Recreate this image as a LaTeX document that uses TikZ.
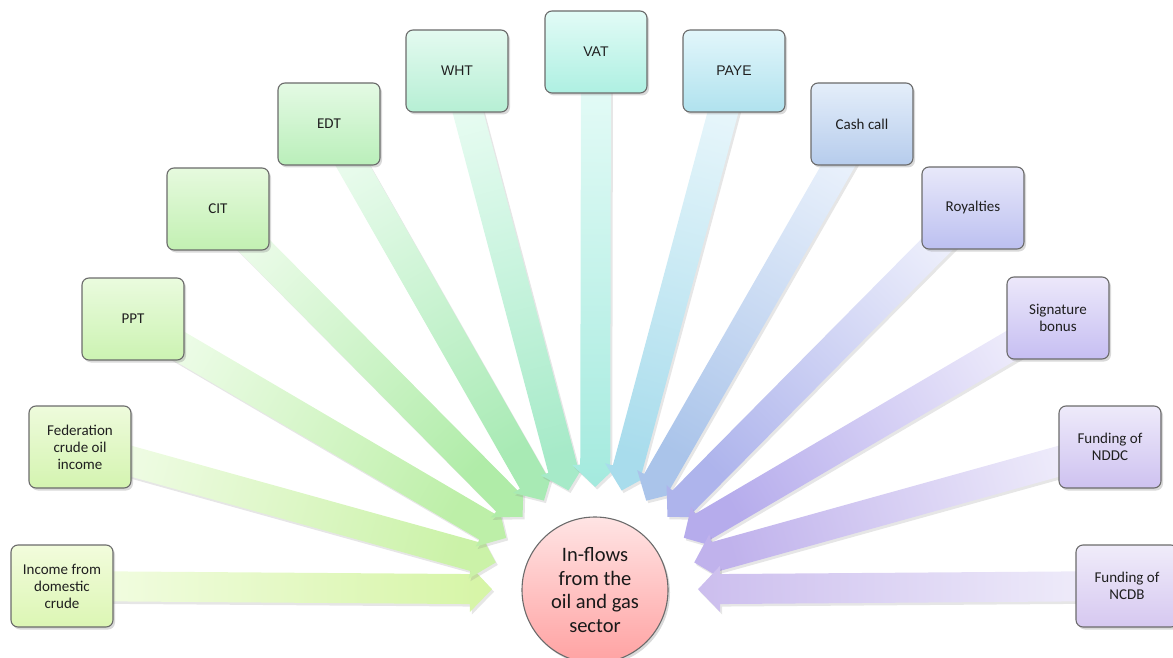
\documentclass[tikz,border=0pt]{standalone}
\usepackage{fontspec}
\setmainfont{Carlito}
\newfontfamily\arialfont{Liberation Sans}
\usetikzlibrary{calc,shadows}
\pgfdeclarelayer{flows}
\pgfsetlayers{flows,main}

% box colours: top / bottom
\definecolor{b1t}{HTML}{F2FCDC}\definecolor{b1b}{HTML}{DCF6B4}
\definecolor{b2t}{HTML}{EEFBDC}\definecolor{b2b}{HTML}{D4F4B0}
\definecolor{b3t}{HTML}{EAFBDE}\definecolor{b3b}{HTML}{CCF3B2}
\definecolor{b4t}{HTML}{E6FADE}\definecolor{b4b}{HTML}{C2F0B2}
\definecolor{b5t}{HTML}{E4FAE4}\definecolor{b5b}{HTML}{BAEFBA}
\definecolor{b6t}{HTML}{E4FAF0}\definecolor{b6b}{HTML}{B6EFD4}
\definecolor{b7t}{HTML}{E2FBF6}\definecolor{b7b}{HTML}{AEF0E2}
\definecolor{b8t}{HTML}{E2F6FB}\definecolor{b8b}{HTML}{B0E2EE}
\definecolor{b9t}{HTML}{E4EEFA}\definecolor{b9b}{HTML}{B6CCEC}
\definecolor{b10t}{HTML}{E8E8FA}\definecolor{b10b}{HTML}{BCC0F0}
\definecolor{b11t}{HTML}{ECE8FA}\definecolor{b11b}{HTML}{C6BEF2}
\definecolor{b12t}{HTML}{EEEAFA}\definecolor{b12b}{HTML}{CEC2F0}
\definecolor{b13t}{HTML}{F0ECFA}\definecolor{b13b}{HTML}{D6C8F0}
% arrow colours: tail / head
\definecolor{a1t}{HTML}{F4FDE6}\definecolor{a1h}{HTML}{D6F5A6}
\definecolor{a2t}{HTML}{F0FCE6}\definecolor{a2h}{HTML}{CBF2A8}
\definecolor{a3t}{HTML}{EDFCE8}\definecolor{a3h}{HTML}{BDEFA8}
\definecolor{a4t}{HTML}{EAFBE8}\definecolor{a4h}{HTML}{B0ECA8}
\definecolor{a5t}{HTML}{E8FBEC}\definecolor{a5h}{HTML}{A8EAB4}
\definecolor{a6t}{HTML}{E8FCF2}\definecolor{a6h}{HTML}{A6EAC8}
\definecolor{a7t}{HTML}{E8FCF8}\definecolor{a7h}{HTML}{A4EADE}
\definecolor{a8t}{HTML}{E8F6FB}\definecolor{a8h}{HTML}{A8DCEC}
\definecolor{a9t}{HTML}{E8F0FB}\definecolor{a9h}{HTML}{AAC4EA}
\definecolor{a10t}{HTML}{ECEEFB}\definecolor{a10h}{HTML}{AEB4EC}
\definecolor{a11t}{HTML}{EEECFB}\definecolor{a11h}{HTML}{B6ACEC}
\definecolor{a12t}{HTML}{F0EEFB}\definecolor{a12h}{HTML}{C0B2EC}
\definecolor{a13t}{HTML}{F2F0FB}\definecolor{a13h}{HTML}{CCBEEE}
\definecolor{hubt}{HTML}{FFE4E4}\definecolor{hubb}{HTML}{FFA2A2}

% block arrow from a box towards the hub, shaded from tail to head
\newcommand\inflow[3]{%
  \path let \p1=($(hub.center)-(#1.center)$), \n1={atan2(\y1,\x1)+90} in
    \pgfextra{\xdef\flowangle{\n1}};
  \coordinate (#1-tip) at ($(hub.center)!103pt!(#1.center)$);
  \coordinate (#1-neck) at ($(hub.center)!125pt!(#1.center)$);
  \path[flowarrow, top color=#2, bottom color=#3, shading angle=\flowangle]
    ($(#1.center)!15pt!90:(hub.center)$) -- ($(#1-neck)!15pt!90:(hub.center)$)
    -- ($(#1-neck)!23pt!90:(hub.center)$) -- (#1-tip)
    -- ($(#1-neck)!23pt!-90:(hub.center)$) -- ($(#1-neck)!15pt!-90:(hub.center)$)
    -- ($(#1.center)!15pt!-90:(hub.center)$) -- cycle;
}

\begin{document}
\begin{tikzpicture}[x=1pt,y=-1pt,
  box/.style 2 args={draw=black!58, line width=1.1pt, rounded corners=7pt,
    minimum width=102pt, minimum height=82pt, inner sep=2pt, align=center,
    font=\fontsize{15}{17}\selectfont, text=black!88,
    top color=#1, bottom color=#2,
    drop shadow={shadow xshift=2pt, shadow yshift=-2.5pt, opacity=.3}},
  hubnode/.style={circle, draw=black!58, line width=1.1pt, minimum size=146pt,
    inner sep=0pt, align=center, font=\fontsize{20.5}{23.5}\selectfont,
    text=black!90, top color=hubt, bottom color=hubb,
    drop shadow={shadow xshift=2pt, shadow yshift=-2.5pt, opacity=.3}},
  flowarrow/.style={drop shadow={shadow xshift=2pt, shadow yshift=-2.5pt, opacity=.2}},
]
\useasboundingbox (0,0) rectangle (1173,658);

\node[box={b1t}{b1b}] (income) at (62,586) {Income from\\domestic\\crude};
\node[box={b2t}{b2b}] (federation) at (80,447) {Federation\\crude oil\\income};
\node[box={b3t}{b3b}] (ppt) at (133,319) {PPT};
\node[box={b4t}{b4b}] (cit) at (218,209) {CIT};
\node[box={b5t}{b5b}] (edt) at (329,124) {EDT};
\node[box={b6t}{b6b}, font=\arialfont\fontsize{14}{17}\selectfont] (wht) at (457,71) {WHT};
\node[box={b7t}{b7b}, font=\arialfont\fontsize{14}{17}\selectfont] (vat) at (596,52) {VAT};
\node[box={b8t}{b8b}, font=\arialfont\fontsize{14}{17}\selectfont] (paye) at (734,71) {PAYE};
\node[box={b9t}{b9b}] (cashcall) at (862,124) {Cash call};
\node[box={b10t}{b10b}] (royalties) at (973,208) {Royalties};
\node[box={b11t}{b11b}] (signature) at (1058,318) {Signature\\bonus};
\node[box={b12t}{b12b}] (nddc) at (1110,447) {Funding of\\NDDC};
\node[box={b13t}{b13b}] (ncdb) at (1127,586) {Funding of\\NCDB};

\node[hubnode] (hub) at (595,590) {In-flows\\from the\\oil and gas\\sector};

\begin{pgfonlayer}{flows}
\inflow{income}{a1t}{a1h}
\inflow{federation}{a2t}{a2h}
\inflow{ppt}{a3t}{a3h}
\inflow{cit}{a4t}{a4h}
\inflow{edt}{a5t}{a5h}
\inflow{wht}{a6t}{a6h}
\inflow{vat}{a7t}{a7h}
\inflow{paye}{a8t}{a8h}
\inflow{cashcall}{a9t}{a9h}
\inflow{royalties}{a10t}{a10h}
\inflow{signature}{a11t}{a11h}
\inflow{nddc}{a12t}{a12h}
\inflow{ncdb}{a13t}{a13h}
\end{pgfonlayer}
\end{tikzpicture}
\end{document}
